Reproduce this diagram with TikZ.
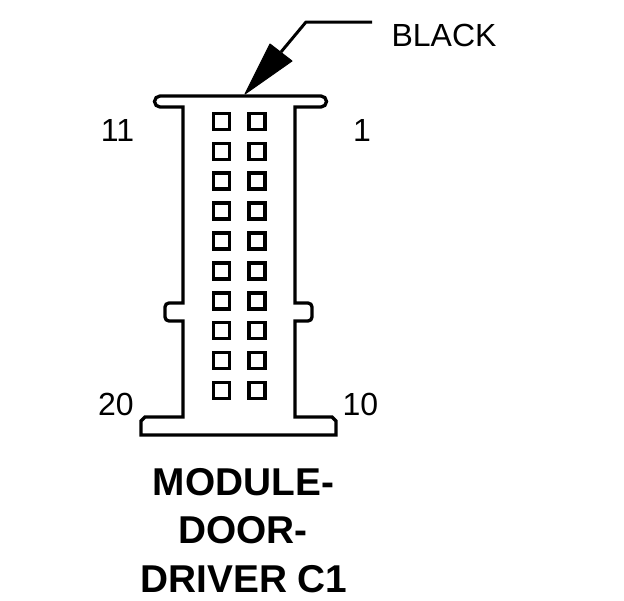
\documentclass[tikz,border=0pt]{standalone}
\usepackage{fontspec}
\setmainfont{Liberation Sans}
\begin{document}
\begin{tikzpicture}[x=1pt,y=-1pt]

\useasboundingbox (0,0) rectangle (624,600);

\tikzstyle{pin}=[rectangle,draw=black,line width=3.3pt,minimum size=16pt,inner sep=0pt]
\tikzstyle{outline}=[draw=black,line width=3.3pt,line join=miter]
\tikzstyle{label}=[anchor=base,inner sep=0pt,font=\fontsize{32}{32}\selectfont]
\tikzstyle{title}=[anchor=base,inner sep=0pt,font=\fontsize{38.8}{38.8}\selectfont\bfseries]

% housing
\draw[outline] (183,107)--(160,107) arc (90:270:5.5) --(321,96) arc (270:450:5.5) --(295,107)
   --(295,303)--(308,303) arc (270:360:4) --(312,317) arc (0:90:4) --(295,321)
   --(295,417)--(332,417)--(336,421)--(336,435)--(141,435)--(141,421)--(145,417)--(183,417)
   --(183,321)--(169,321) arc (90:180:4) --(165,307) arc (180:270:4) --(183,303)--cycle;

% left column
\node (pin11) at (221.5,121.5) [pin] {};
\node (pin12) at (221.5,151.5) [pin] {};
\node (pin13) at (221.5,181) [pin] {};
\node (pin14) at (221.5,211) [pin] {};
\node (pin15) at (221.5,241) [pin] {};
\node (pin16) at (221.5,271) [pin] {};
\node (pin17) at (221.5,301) [pin] {};
\node (pin18) at (221.5,330.5) [pin] {};
\node (pin19) at (221.5,360.5) [pin] {};
\node (pin20) at (221.5,390.5) [pin] {};

% right column
\node (pin1) at (257,121.5) [pin] {};
\node (pin2) at (257,151.5) [pin] {};
\node (pin3) at (257,181) [pin] {};
\node (pin4) at (257,211) [pin] {};
\node (pin5) at (257,241) [pin] {};
\node (pin6) at (257,271) [pin] {};
\node (pin7) at (257,301) [pin] {};
\node (pin8) at (257,330.5) [pin] {};
\node (pin9) at (257,360.5) [pin] {};
\node (pin10) at (257,390.5) [pin] {};

% arrow to the flange
\coordinate (tip) at (245,94);
\coordinate (barbl) at (270,44);
\coordinate (barbr) at (292,61);
\coordinate (neck) at (281,52);
\coordinate (bend) at (306,22);
\coordinate (lead) at (372,22);
\draw[line width=3pt,line join=round] (lead)--(bend)--(neck);
\draw[fill=black,line width=1pt,line join=round] (tip)--(barbl)--(barbr)--cycle;

\node (colour) at (444,46) [label] {BLACK};
\node (num11) at (117.5,141) [label] {11};
\node (num1) at (362,141) [label] {1};
\node (num20) at (116,415) [label] {20};
\node (num10) at (360.5,415) [label] {10};

\node (name1) at (243.5,495) [title] {MODULE-};
\node (name2) at (243,543) [title] {DOOR-};
\node (name3) at (244,592) [title] {DRIVER C1};

\end{tikzpicture}
\end{document}
